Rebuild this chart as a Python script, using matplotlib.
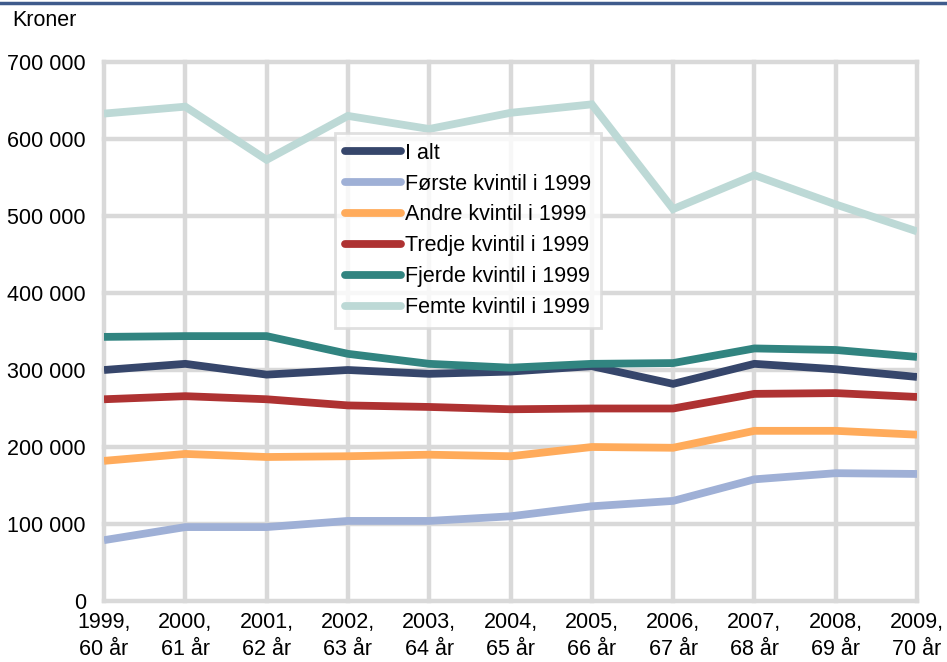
import matplotlib
matplotlib.use("Agg")
import matplotlib.pyplot as plt
from matplotlib.lines import Line2D

plt.rcParams['font.family'] = ['Liberation Sans', 'DejaVu Sans']

years = ["1999,\n60 år", "2000,\n61 år", "2001,\n62 år", "2002,\n63 år", "2003,\n64 år",
         "2004,\n65 år", "2005,\n66 år", "2006,\n67 år", "2007,\n68 år", "2008,\n69 år",
         "2009,\n70 år"]

i_alt   = [300000, 308000, 294000, 300000, 295000, 298000, 305000, 282000, 308000, 301000, 291000]
forste  = [79000, 96000, 96000, 104000, 104000, 110000, 123000, 130000, 158000, 166000, 165000]
andre   = [182000, 191000, 187000, 188000, 190000, 188000, 200000, 199000, 221000, 221000, 216000]
tredje  = [262000, 266000, 262000, 254000, 252000, 249000, 250000, 250000, 269000, 270000, 265000]
fjerde  = [343000, 344000, 344000, 321000, 308000, 303000, 308000, 309000, 328000, 326000, 317000]
femte   = [633000, 642000, 573000, 630000, 613000, 634000, 645000, 509000, 553000, 515000, 480000]

series = [
    ("I alt", i_alt, "#36466B"),
    ("Første kvintil i 1999", forste, "#9FB0D6"),
    ("Andre kvintil i 1999", andre, "#FFAB5B"),
    ("Tredje kvintil i 1999", tredje, "#AE3232"),
    ("Fjerde kvintil i 1999", fjerde, "#318480"),
    ("Femte kvintil i 1999", femte, "#BDD9D6"),
]

FS = 15.5

fig = plt.figure(figsize=(9.47, 6.62), dpi=100)
ax = fig.add_axes([104/947, 1-601/662, (917-104)/947, (601-62)/662])

x = list(range(len(years)))
for name, vals, col in series:
    ax.plot(x, vals, color=col, lw=5.6, solid_capstyle='butt', solid_joinstyle='miter',
            zorder=3, label=name)

ax.set_xlim(0, len(years)-1)
ax.set_ylim(0, 700000)
ax.set_yticks(range(0, 700001, 100000))
ax.set_yticklabels(["0" if v == 0 else f"{v//1000} 000" for v in range(0, 700001, 100000)])
ax.set_xticks(x)
ax.set_xticklabels(years)
ax.tick_params(axis='both', length=0, labelsize=FS, colors='black')
ax.tick_params(axis='y', pad=13)
ax.tick_params(axis='x', pad=8)
for s in ax.spines.values():
    s.set_visible(False)
ax.grid(True, color="#D9D9D9", lw=3.2, zorder=0)
ax.set_axisbelow(True)
for gl in ax.get_xgridlines() + ax.get_ygridlines():
    gl.set_clip_on(False)
for lab in ax.get_xticklabels():
    lab.set_linespacing(1.38)

handles = [Line2D([0], [0], color=c, lw=5.6, solid_capstyle='round') for _, _, c in series]
leg = ax.legend(handles, [n for n, _, _ in series], loc='upper left',
                bbox_to_anchor=((335-104)/813, (601-133)/539), fontsize=FS,
                frameon=True, fancybox=False, handlelength=2.6, handletextpad=0.2,
                labelspacing=0.46, borderpad=0.45, borderaxespad=0)
leg.get_frame().set_edgecolor("#D9D9D9")
leg.get_frame().set_linewidth(2)
leg.set_zorder(5)

fig.text(12/947, 1-20/662, "Kroner", fontsize=FS, va='center', ha='left')
fig.add_artist(Line2D([0, 1], [1-3/662, 1-3/662], color="#3F5B8C", lw=2.5,
                      transform=fig.transFigure))

fig.savefig("out.png", dpi=100)
